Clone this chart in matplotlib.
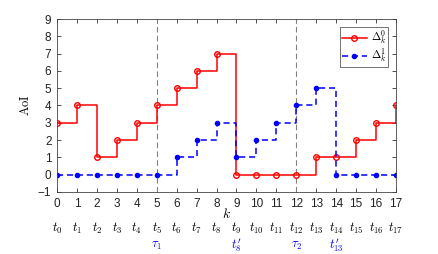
import numpy as np
import matplotlib
matplotlib.use("Agg")
import matplotlib.pyplot as plt
import matplotlib.transforms as mtransforms

plt.rcParams['mathtext.fontset'] = 'cm'
plt.rcParams['font.family'] = ['Liberation Sans', 'DejaVu Sans']

k = np.arange(0, 18)
aoi0 = [3, 4, 1, 2, 3, 4, 5, 6, 7, 0, 0, 0, 0, 1, 1, 2, 3, 4]
aoi1 = [0, 0, 0, 0, 0, 0, 1, 2, 3, 1, 2, 3, 4, 5, 0, 0, 0, 0]
tau_pos = [5, 9, 12, 14]
tau_labels = [r'$\tau_1$', r"$t_8'$", r'$\tau_2$', r"$t_{13}'$"]
vlines = [5, 12]

fig = plt.figure(figsize=(4.38, 2.54), dpi=100)
ax = fig.add_axes([57 / 438, 1 - 192 / 254, (396 - 57) / 438, (192 - 19) / 254])

for x in vlines:
    ax.axvline(x, color='gray', ls=(0, (5, 3)), lw=0.8)

ax.step(k, aoi0, where='post', color='red', lw=1.1, marker='o', ms=4,
        mfc='none', mew=1.0, label=r'$\Delta_k^0$')
ax.step(k, aoi1, where='post', color='blue', lw=1.1, ls=(0, (4, 2.5)),
        marker='.', ms=6, label=r'$\Delta_k^1$')

ax.set_xlim(0, 17)
ax.set_ylim(-1, 9)
ax.set_xticks(k)
ax.set_yticks(np.arange(-1, 10))
ax.tick_params(direction='in', top=True, right=True, labelsize=8.5,
               length=3, width=0.6, colors='#333333', labelcolor='#222222', pad=4)
for s in ax.spines.values():
    s.set_linewidth(0.6)
    s.set_color('#444444')

# AoI in Computer Modern like the rest of the math text
ax.set_ylabel(r'$\mathrm{AoI}$', fontsize=9, labelpad=4)

trans = mtransforms.blended_transform_factory(ax.transData, ax.transAxes)
ax.text(8.5, -0.13, r'$k$', transform=trans, ha='center', va='center', fontsize=10)
for i in k:
    ax.text(i, -0.21, r'$t_{%d}$' % i, transform=trans, ha='center', va='center',
            fontsize=9)
for x, lab in zip(tau_pos, tau_labels):
    ax.text(x, -0.31, lab, transform=trans, ha='center', va='center',
            fontsize=9, color='blue')

leg = ax.legend(loc='upper right', fontsize=8, handlelength=2.3, borderpad=0.15,
                labelspacing=0.05, handletextpad=0.3, fancybox=False,
                borderaxespad=0, bbox_to_anchor=(0.976, 0.954))
leg.get_frame().set_edgecolor('#333333')
leg.get_frame().set_linewidth(0.6)

fig.savefig('out.png', dpi=100)
